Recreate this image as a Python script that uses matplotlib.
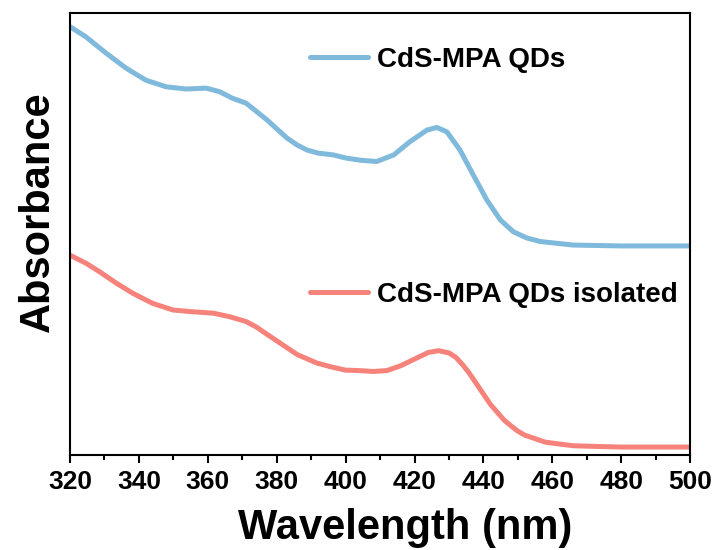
import matplotlib.pyplot as plt
from matplotlib.ticker import MultipleLocator

# Absorbance spectra (a.u.)
wl_qds = [320, 324.6, 330.5, 336.3, 342, 347.9, 353.7, 359.5, 363.4, 367.2, 371.1,
          374, 377.2, 380, 383, 386, 388.8, 392, 396.4, 400, 404.2, 409, 414,
          418.7, 423.6, 426.5, 429.4, 433.2, 437.1, 441, 444.9, 448.7, 452.6, 456.5,
          466, 480, 500]
abs_qds = [0.969, 0.946, 0.909, 0.875, 0.848, 0.833, 0.828, 0.830, 0.822, 0.807,
           0.796, 0.778, 0.758, 0.738, 0.717, 0.701, 0.690, 0.683, 0.679, 0.672,
           0.667, 0.664, 0.679, 0.709, 0.735, 0.741, 0.731, 0.690, 0.633, 0.577,
           0.532, 0.505, 0.491, 0.483, 0.475, 0.473, 0.473]

wl_iso = [320, 324.6, 328.5, 333.4, 338.2, 344, 349.9, 355.7, 361.5, 366.3, 371.1,
          374, 377, 381.8, 386, 391.7, 396, 400, 404, 408, 412, 416, 420, 424, 427,
          430, 432, 434, 436, 438, 440, 442, 444, 446, 448, 450, 452, 455, 458, 462,
          466, 470, 480, 500]
abs_iso = [0.452, 0.434, 0.415, 0.389, 0.366, 0.343, 0.328, 0.324, 0.321, 0.313,
           0.302, 0.290, 0.274, 0.249, 0.227, 0.208, 0.199, 0.192, 0.191, 0.189,
           0.191, 0.202, 0.217, 0.232, 0.236, 0.231, 0.221, 0.204, 0.184, 0.161,
           0.138, 0.115, 0.097, 0.079, 0.066, 0.054, 0.045, 0.037, 0.029, 0.025,
           0.021, 0.020, 0.018, 0.018]

plt.rcParams['font.family'] = ['Liberation Sans', 'DejaVu Sans']
plt.rcParams['font.weight'] = 'bold'

fig = plt.figure(figsize=(7.16, 5.5), dpi=100)
ax = fig.add_axes([0.0978, 0.1727, 0.866, 0.8037])

l1, = ax.plot(wl_qds, abs_qds, color='#7fb9dc', lw=3.6, solid_capstyle='round',
              solid_joinstyle='round')
l2, = ax.plot(wl_iso, abs_iso, color='#f5837b', lw=3.6, solid_capstyle='round',
              solid_joinstyle='round')

ax.set_xlim(320, 500)
ax.set_ylim(0, 1.0)
ax.xaxis.set_major_locator(MultipleLocator(20))
ax.xaxis.set_minor_locator(MultipleLocator(10))
ax.set_yticks([])
ax.tick_params(axis='x', which='major', direction='out', length=6, width=1.5,
               labelsize=19, pad=5)
ax.tick_params(axis='x', which='minor', direction='out', length=3.5, width=1.5)
for lab in ax.get_xticklabels():
    lab.set_fontweight('bold')
for sp in ax.spines.values():
    sp.set_linewidth(1.5)

ax.set_xlabel('Wavelength (nm)', fontsize=30, fontweight='bold')
ax.set_ylabel('Absorbance', fontsize=30, fontweight='bold')
ax.xaxis.set_label_coords(0.54, -0.12)
ax.yaxis.set_label_coords(-0.02, 0.55)

leg1 = ax.legend([l1], ['CdS-MPA QDs'], loc='center left', bbox_to_anchor=(0.387, 0.894),
                 frameon=False, borderaxespad=0, borderpad=0, handlelength=2.1,
                 handletextpad=0.32, prop={'size': 20, 'weight': 'bold'})
ax.add_artist(leg1)
ax.legend([l2], ['CdS-MPA QDs isolated'], loc='center left', bbox_to_anchor=(0.387, 0.362),
          frameon=False, borderaxespad=0, borderpad=0, handlelength=2.1,
          handletextpad=0.32, prop={'size': 20, 'weight': 'bold'})

plt.savefig('out.png', dpi=100)
